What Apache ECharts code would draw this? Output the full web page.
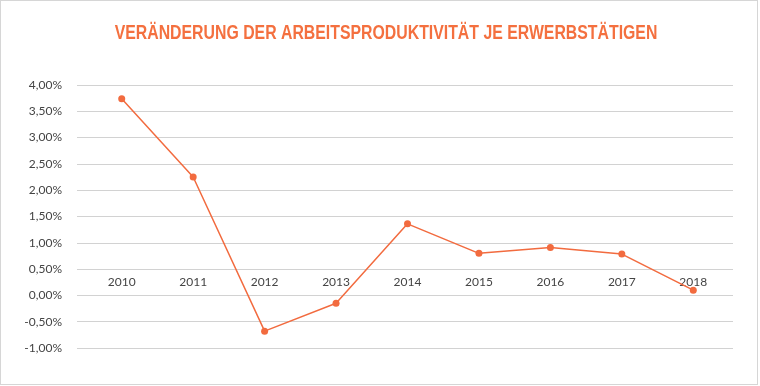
<!DOCTYPE html>
<html><head><meta charset="utf-8">
<script src="https://cdn.jsdelivr.net/npm/echarts@6/dist/echarts.min.js"></script>
<style>
html,body{margin:0;padding:0;background:#fff;}
#frame{position:absolute;left:0;top:0;width:756px;height:383px;border:1px solid #d6d6d6;}
#c{position:absolute;left:0;top:0;width:760px;height:386px;}
</style></head>
<body><div id="frame"></div><div id="c"></div>
<script>
const years = ['2010','2011','2012','2013','2014','2015','2016','2017','2018'];
const values = [3.74, 2.25, -0.68, -0.15, 1.36, 0.80, 0.91, 0.785, 0.10];
const titleText = 'VERÄNDERUNG DER ARBEITSPRODUKTIVITÄT JE ERWERBSTÄTIGEN';
const yMin = -1, yMax = 4, yStep = 0.5;

const orange = '#F26B3F';
const chart = echarts.init(document.getElementById('c'));
chart.setOption({
  animation: false,
  graphic: [{
    type: 'text', x: 386, y: 33, scaleX: 0.792, scaleY: 1,
    style: {text: titleText, textAlign: 'center', textVerticalAlign: 'middle',
      font: 'bold 20px "Liberation Sans", Arial, sans-serif', fill: '#F4703F'}
  }],
  grid: [
    {left: 77, right: 27, top: 85, bottom: 38},
    {left: 86, right: 31, top: 85, bottom: 38}
  ],
  xAxis: [
    {gridIndex: 0, type: 'value', min: 0, max: 1, show: false},
    {gridIndex: 1, type: 'category', data: years, boundaryGap: true, position: 'bottom', offset: -53,
     axisLine: {show: false, onZero: false}, axisTick: {show: false},
     axisLabel: {inside: true, margin: 7, color: '#444', fontSize: 12, fontFamily: 'Lato, sans-serif'}}
  ],
  yAxis: [
    {gridIndex: 0, type: 'value', min: yMin, max: yMax, interval: yStep,
     axisLine: {show: false}, axisTick: {show: false},
     splitLine: {lineStyle: {color: '#d2d2d2', width: 1}},
     axisLabel: {margin: 15, color: '#444', fontSize: 12, fontFamily: 'Lato, sans-serif',
       formatter: v => v.toFixed(2).replace('.', ',') + '%'}},
    {gridIndex: 1, type: 'value', min: yMin, max: yMax, interval: yStep, show: false, splitLine: {show: false}}
  ],
  series: [{
    type: 'line', xAxisIndex: 1, yAxisIndex: 1, data: values,
    symbol: 'circle', symbolSize: 7,
    lineStyle: {color: orange, width: 1.5},
    itemStyle: {color: orange}
  }]
});
</script></body></html>
